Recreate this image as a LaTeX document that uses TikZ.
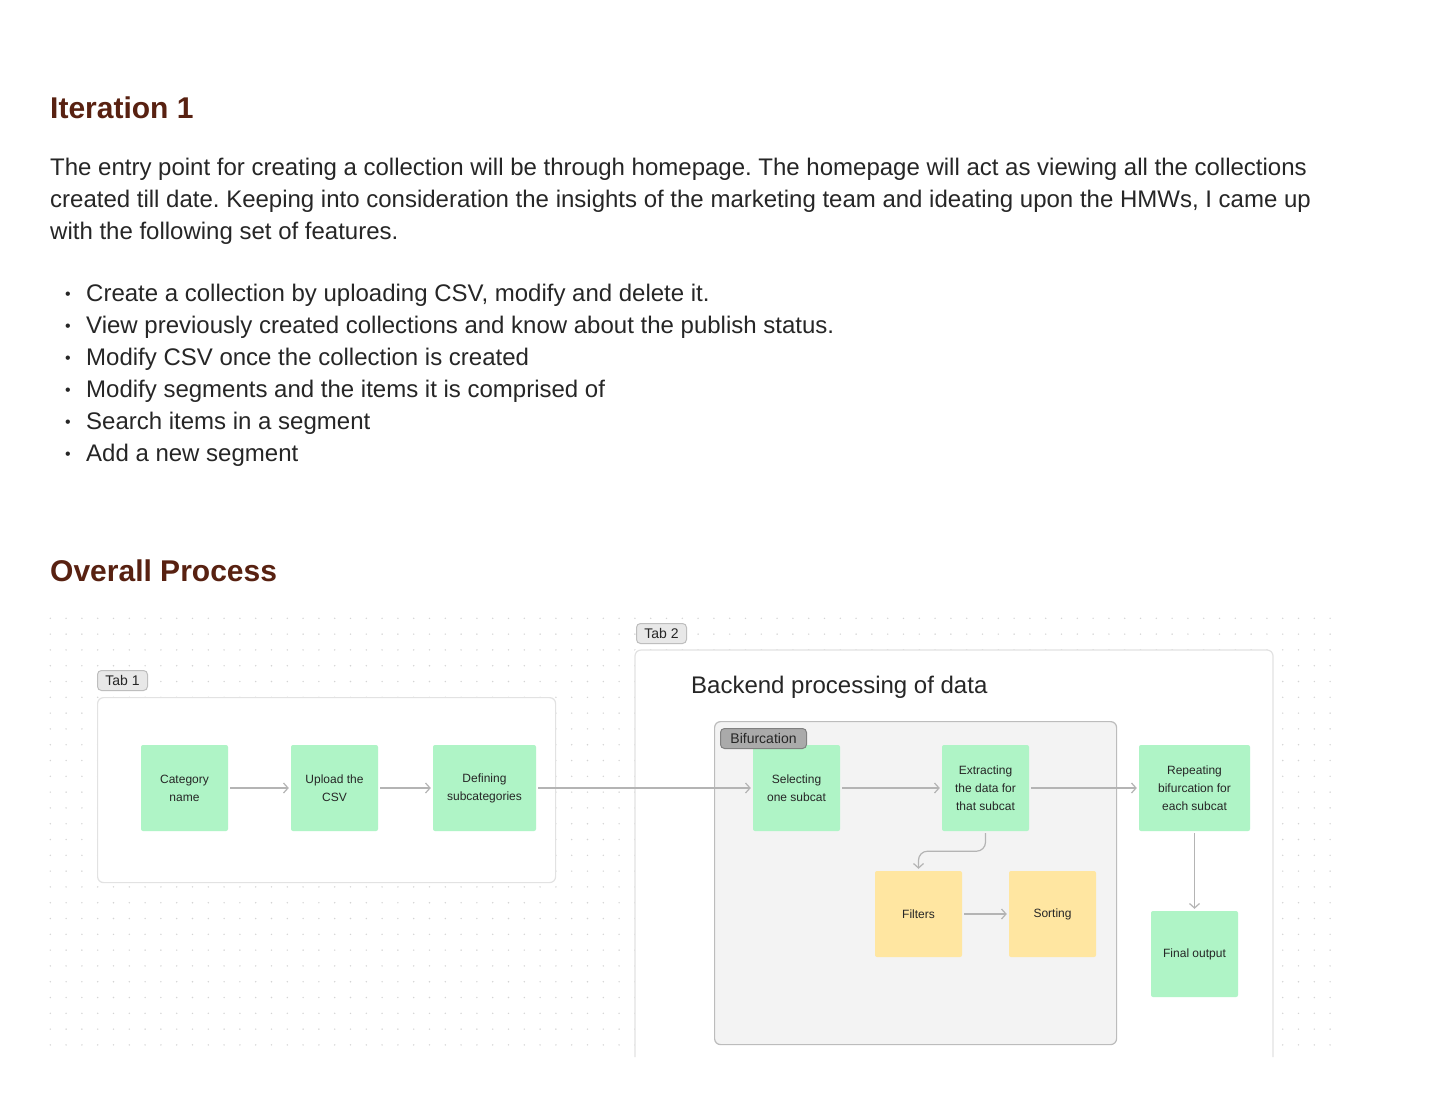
\documentclass[tikz,border=0pt]{standalone}
\usepackage{fontspec}
\setmainfont{Liberation Sans}
\usetikzlibrary{arrows.meta,calc}
\frenchspacing

\definecolor{heading}{RGB}{88,33,17}
\definecolor{bodytext}{RGB}{38,38,38}
\definecolor{mint}{RGB}{175,244,198}
\definecolor{butter}{RGB}{255,230,161}
\definecolor{gridgray}{RGB}{212,212,212}
\definecolor{framegray}{RGB}{226,226,226}
\definecolor{linkgray}{RGB}{180,180,180}
\definecolor{panelfill}{RGB}{243,243,243}
\definecolor{panelline}{RGB}{188,188,188}
\definecolor{tabfill}{RGB}{232,232,232}
\definecolor{tabline}{RGB}{190,190,190}
\definecolor{chipfill}{RGB}{170,170,170}
\definecolor{chipline}{RGB}{128,128,128}

\tikzset{
  card/.style={rectangle, rounded corners=2pt, minimum height=86pt, inner sep=0pt,
    align=center, text=bodytext, font=\fontsize{12}{18}\selectfont},
  greencard/.style={card, fill=mint, minimum width=87pt},
  yellowcard/.style={card, fill=butter, minimum width=87pt},
  link/.style={draw=linkgray, line width=1.2pt, shorten >=2pt, shorten <=2pt,
    -{Straight Barb[length=4.5pt,width=10pt,line width=1.2pt]}},
  tablabel/.style={rectangle, rounded corners=4pt, fill=tabfill, draw=tabline,
    line width=1pt, inner sep=0pt, minimum width=50pt, minimum height=20pt,
    text=bodytext, font=\fontsize{14}{14}\selectfont, anchor=north west},
  headline/.style={anchor=base west, inner sep=0pt, text=heading,
    font=\fontsize{30}{36}\bfseries\selectfont},
  bodyline/.style={anchor=base west, inner sep=0pt, text=bodytext,
    font=\fontsize{24}{32}\selectfont},
  bulletmark/.style={anchor=base, inner sep=0pt, text=bodytext,
    font=\fontsize{16}{32}\selectfont}
}

\begin{document}
\begin{tikzpicture}[x=1pt,y=-1pt]
\useasboundingbox (0,0) rectangle (1440,1096);
\fill[white] (0,0) rectangle (1440,1096);

% ---- headings and text ----
\node[headline] (title1) at (50,118) {Iteration 1};
\node[bodyline] (para1) at (50,175) {The entry point for creating a collection will be through homepage. The homepage will act as viewing all the collections};
\node[bodyline] (para2) at (50,207) {created till date. Keeping into consideration the insights of the marketing team and ideating upon the HMWs, I came up};
\node[bodyline] (para3) at (50,239) {with the following set of features.};

\foreach \y/\txt [count=\k] in {
  301/{Create a collection by uploading CSV, modify and delete it.},
  333/{View previously created collections and know about the publish status.},
  365/{Modify CSV once the collection is created},
  397/{Modify segments and the items it is comprised of},
  429/{Search items in a segment},
  461/{Add a new segment}} {
  \node[bulletmark] (dot\k) at (68,\y-2) {•};
  \node[bodyline] (item\k) at (86,\y) {\txt};
}

\node[headline] (title2) at (50,581) {Overall Process};

% ---- dotted canvas ----
\foreach \i in {0,...,81} {
  \foreach \j in {0,...,27} {
    \fill[gridgray] (50.3+\i*15.8, 618.3+\j*15.8) circle (0.8pt);
  }
}

% ---- tab frames ----
\node[draw=framegray, fill=white, line width=1.2pt, rounded corners=6pt,
  minimum width=458pt, minimum height=185pt, anchor=north west, inner sep=0pt]
  (tabone) at (97,697) {};
\fill[white] (635,650) rectangle (1273,1057);
\draw[framegray, line width=1.2pt, rounded corners=6pt]
  (635,1057) -- (635,650) -- (1273,650) -- (1273,1057);
\coordinate (tabtwo) at (635,650);

\node[tablabel] (tabonelabel) at (97,670) {Tab 1};
\node[tablabel] (tabtwolabel) at (636,623) {Tab 2};

\node[anchor=base west, inner sep=0pt, text=bodytext, font=\fontsize{24}{28}\selectfont]
  (backend) at (691,693) {Backend processing of data};

% ---- bifurcation panel ----
\node[draw=panelline, fill=panelfill, line width=1.2pt, rounded corners=6pt,
  minimum width=402pt, minimum height=323pt, anchor=north west, inner sep=0pt]
  (bifpanel) at (714,721) {};

% ---- cards ----
\node[greencard] (catname) at (184.5,788) {Category\\name};
\node[greencard] (upload) at (334.5,788) {Upload the\\CSV};
\node[greencard, minimum width=103pt] (subcats) at (484.5,788) {Defining\\subcategories};
\node[greencard] (select) at (796.5,788) {Selecting\\one subcat};
\node[greencard] (extract) at (985.5,788) {Extracting\\the data for\\that subcat};
\node[greencard, minimum width=111pt] (repeat) at (1194.5,788) {Repeating\\bifurcation for\\each subcat};
\node[greencard] (final) at (1194.5,954) {Final output};
\node[yellowcard] (filters) at (918.5,914) {Filters};
\node[yellowcard] (sorting) at (1052.5,914) {Sorting};

\node[rectangle, rounded corners=4pt, fill=chipfill, draw=chipline, line width=1pt,
  inner sep=0pt, minimum width=86pt, minimum height=20pt, anchor=north west,
  text=black!85, font=\fontsize{14}{14}\selectfont] (bifchip) at (720,728) {Bifurcation};

% ---- connectors ----
\draw[link] (catname) -- (upload);
\draw[link] (upload) -- (subcats);
\draw[link] (subcats) -- (select);
\draw[link] (select) -- (extract);
\draw[link] (extract) -- (repeat);
\draw[link] (repeat) -- (final);
\draw[link] (filters) -- (sorting);
\draw[link, rounded corners=9pt] (extract.south) -- ++(0,20) -| (filters.north);

\end{tikzpicture}
\end{document}
